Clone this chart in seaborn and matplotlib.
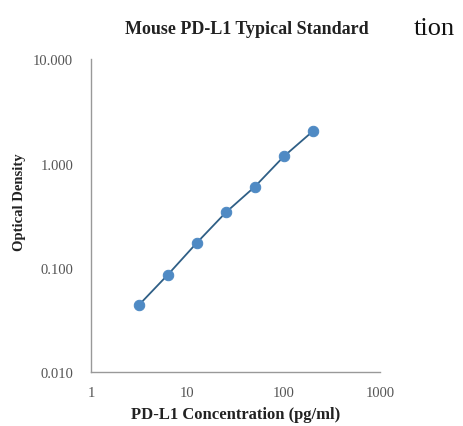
import numpy as np
import pandas as pd
import matplotlib
matplotlib.use("Agg")
import matplotlib.pyplot as plt
import seaborn as sns
from matplotlib.ticker import FixedLocator, FixedFormatter, LogLocator, NullFormatter

# standard curve data
concentration = [3.125, 6.25, 12.5, 25, 50, 100, 200]
optical_density = [0.044, 0.086, 0.174, 0.34, 0.60, 1.17, 2.04]

df = pd.DataFrame({"conc": concentration, "od": optical_density})

sns.set_style("white")
plt.rcParams["font.family"] = ["Liberation Serif", "DejaVu Serif"]

fig = plt.figure(figsize=(4.63, 4.27), dpi=100)
ax = fig.add_axes([0.197, 0.126, 0.624, 0.733])

sns.lineplot(data=df, x="conc", y="od", ax=ax, color="#2f5f86", linewidth=1.3,
             marker="o", markersize=7.5, markerfacecolor="#4f8ac4",
             markeredgecolor="#4f8ac4")

ax.set_xscale("log")
ax.set_yscale("log")
ax.set_xlim(1, 1000)
ax.set_ylim(0.01, 10)

ax.xaxis.set_major_locator(FixedLocator([1, 10, 100, 1000]))
ax.xaxis.set_major_formatter(FixedFormatter(["1", "10", "100", "1000"]))
ax.yaxis.set_major_locator(FixedLocator([0.01, 0.1, 1, 10]))
ax.yaxis.set_major_formatter(FixedFormatter(["0.010", "0.100", "1.000", "10.000"]))
ax.xaxis.set_minor_locator(LogLocator(base=10, subs=np.arange(2, 10)))
ax.yaxis.set_minor_locator(LogLocator(base=10, subs=np.arange(2, 10)))
ax.xaxis.set_minor_formatter(NullFormatter())
ax.yaxis.set_minor_formatter(NullFormatter())

ax.tick_params(axis="x", which="major", pad=10)
ax.tick_params(axis="y", which="major", pad=13)
ax.tick_params(axis="both", which="major", direction="in", length=4, width=0.8,
               color="#888888", labelsize=10.5, labelcolor="#555555")
ax.tick_params(axis="both", which="minor", direction="in", length=2.5, width=0.7,
               color="#999999")

for side in ["top", "right"]:
    ax.spines[side].set_visible(False)
for side in ["left", "bottom"]:
    ax.spines[side].set_color("#999999")
    ax.spines[side].set_linewidth(1.0)

ax.set_xlabel("PD-L1 Concentration (pg/ml)", fontsize=12, fontweight="bold",
              labelpad=5, color="#222222")
ax.set_ylabel("Optical Density", fontsize=10.5, fontweight="bold", color="#222222")
ax.yaxis.set_label_coords(-0.225, 0.545)

fig.text(0.533, 0.93, "Mouse PD-L1 Typical Standard", fontsize=13, fontweight="bold",
         ha="center", va="center", color="#222222")
fig.text(0.939, 0.932, "tion", fontsize=19, ha="center", va="center", color="#111111")

fig.savefig("out.png", dpi=100)
